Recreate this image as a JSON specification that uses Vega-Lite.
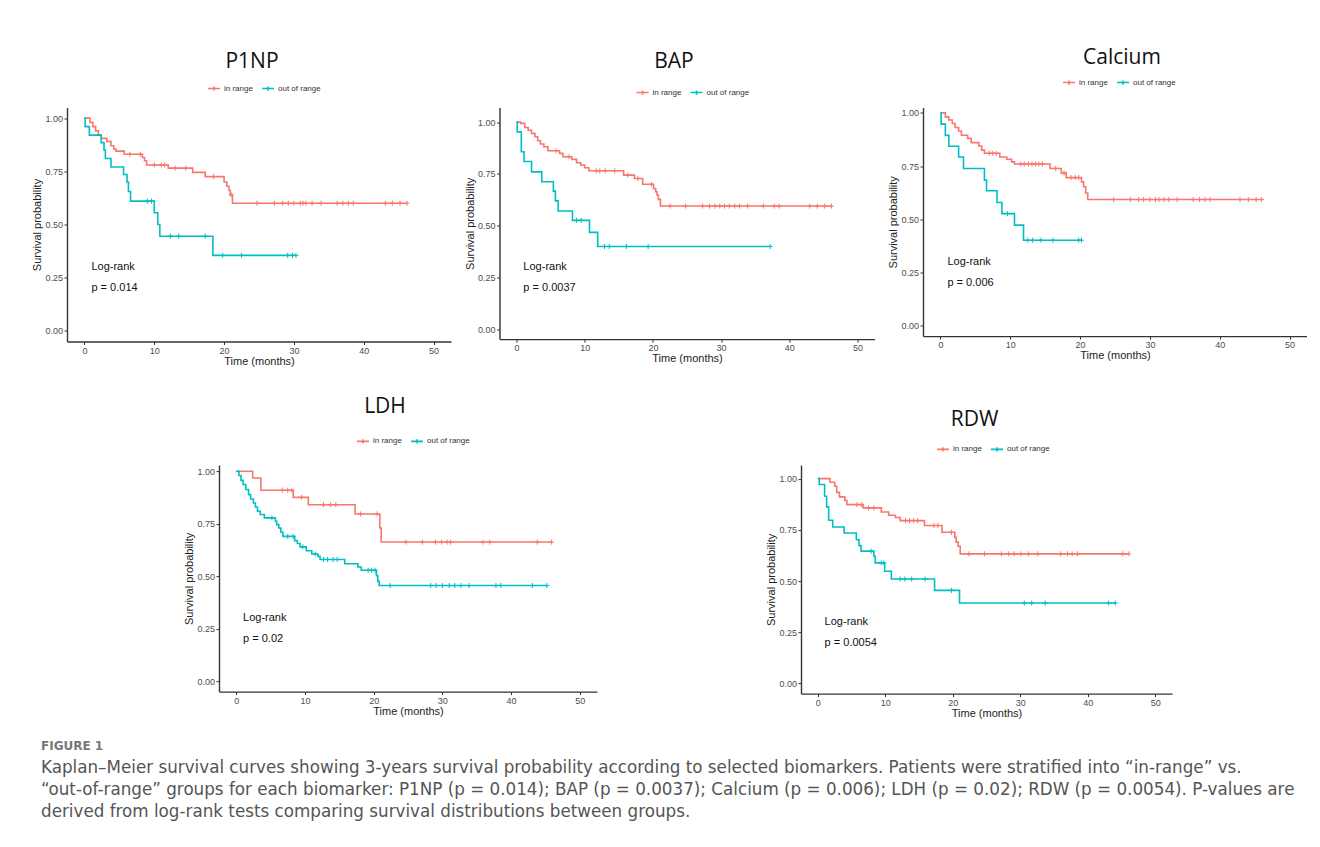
{
  "$schema": "https://vega.github.io/schema/vega-lite/v6.json",
  "padding": {"left": 31, "top": 46.5, "right": 0, "bottom": 5},
  "background": "white",
  "config": {
    "view": {"stroke": null},
    "font": "Liberation Sans",
    "axis": {"grid": false, "domainColor": "#333333", "domainWidth": 1.4, "tickColor": "#333333", "tickWidth": 1, "tickSize": 3, "labelFontSize": 9, "labelColor": "#4d4d4d", "labelPadding": 1.5, "titleFontSize": 11, "titleFontWeight": "normal", "titleColor": "#222222", "titlePadding": 0},
    "axisY": {"titlePadding": 2},
    "legend": {"direction": "horizontal", "labelFontSize": 8, "labelColor": "#333333", "symbolType": "M-1,0L1,0M0,-0.35L0,0.35", "symbolSize": 144, "symbolStrokeWidth": 1.6, "columnPadding": 5, "labelOffset": 3, "padding": 0},
    "title": {"font": "Open Sans", "fontSize": 21, "fontWeight": "normal", "color": "#111111", "anchor": "middle", "frame": "group"}
  },
  "datasets": {
    "P1NP": [
      {"g":"in range","t":0,"s":1,"c":0},{"g":"in range","t":0.8,"s":0.98,"c":0},{"g":"in range","t":1.2,"s":0.96,"c":0},{"g":"in range","t":1.6,"s":0.94,"c":0},{"g":"in range","t":2.0,"s":0.92,"c":0},{"g":"in range","t":2.4,"s":0.905,"c":0},{"g":"in range","t":3.2,"s":0.89,"c":0},{"g":"in range","t":3.8,"s":0.87,"c":0},{"g":"in range","t":4.2,"s":0.855,"c":0},{"g":"in range","t":4.5,"s":0.845,"c":0},{"g":"in range","t":5.7,"s":0.83,"c":0},{"g":"in range","t":6.5,"s":0.83,"c":1},{"g":"in range","t":8.0,"s":0.83,"c":1},{"g":"in range","t":8.3,"s":0.815,"c":0},{"g":"in range","t":8.6,"s":0.8,"c":0},{"g":"in range","t":8.9,"s":0.78,"c":0},{"g":"in range","t":10.0,"s":0.78,"c":1},{"g":"in range","t":11.0,"s":0.78,"c":1},{"g":"in range","t":11.5,"s":0.78,"c":1},{"g":"in range","t":12.0,"s":0.765,"c":0},{"g":"in range","t":13.0,"s":0.765,"c":1},{"g":"in range","t":14.5,"s":0.765,"c":1},{"g":"in range","t":15.5,"s":0.745,"c":0},{"g":"in range","t":17.3,"s":0.725,"c":0},{"g":"in range","t":18.5,"s":0.725,"c":1},{"g":"in range","t":20.0,"s":0.7,"c":0},{"g":"in range","t":20.4,"s":0.68,"c":0},{"g":"in range","t":20.7,"s":0.66,"c":0},{"g":"in range","t":20.9,"s":0.64,"c":0},{"g":"in range","t":21.0,"s":0.64,"c":1},{"g":"in range","t":21.2,"s":0.6,"c":0},{"g":"in range","t":24.7,"s":0.6,"c":1},{"g":"in range","t":27.2,"s":0.6,"c":1},{"g":"in range","t":28.4,"s":0.6,"c":1},{"g":"in range","t":29.2,"s":0.6,"c":1},{"g":"in range","t":30.0,"s":0.6,"c":1},{"g":"in range","t":30.9,"s":0.6,"c":1},{"g":"in range","t":31.3,"s":0.6,"c":1},{"g":"in range","t":31.7,"s":0.6,"c":1},{"g":"in range","t":32.6,"s":0.6,"c":1},{"g":"in range","t":33.9,"s":0.6,"c":1},{"g":"in range","t":36.2,"s":0.6,"c":1},{"g":"in range","t":37.0,"s":0.6,"c":1},{"g":"in range","t":37.8,"s":0.6,"c":1},{"g":"in range","t":38.5,"s":0.6,"c":1},{"g":"in range","t":43.1,"s":0.6,"c":1},{"g":"in range","t":44.1,"s":0.6,"c":1},{"g":"in range","t":45.2,"s":0.6,"c":1},{"g":"in range","t":46.2,"s":0.6,"c":1},
      {"g":"out of range","t":0,"s":1,"c":0},{"g":"out of range","t":0.1,"s":0.96,"c":0},{"g":"out of range","t":0.7,"s":0.92,"c":0},{"g":"out of range","t":2.4,"s":0.885,"c":0},{"g":"out of range","t":2.8,"s":0.85,"c":0},{"g":"out of range","t":3.0,"s":0.81,"c":0},{"g":"out of range","t":3.8,"s":0.77,"c":0},{"g":"out of range","t":5.6,"s":0.735,"c":0},{"g":"out of range","t":6.1,"s":0.7,"c":0},{"g":"out of range","t":6.3,"s":0.655,"c":0},{"g":"out of range","t":6.6,"s":0.61,"c":0},{"g":"out of range","t":9.0,"s":0.61,"c":1},{"g":"out of range","t":9.6,"s":0.61,"c":1},{"g":"out of range","t":10.0,"s":0.555,"c":0},{"g":"out of range","t":10.5,"s":0.5,"c":0},{"g":"out of range","t":10.8,"s":0.445,"c":0},{"g":"out of range","t":12.3,"s":0.445,"c":1},{"g":"out of range","t":13.5,"s":0.445,"c":1},{"g":"out of range","t":17.3,"s":0.445,"c":1},{"g":"out of range","t":18.4,"s":0.355,"c":0},{"g":"out of range","t":19.8,"s":0.355,"c":1},{"g":"out of range","t":22.5,"s":0.355,"c":1},{"g":"out of range","t":29.1,"s":0.355,"c":1},{"g":"out of range","t":29.8,"s":0.355,"c":1},{"g":"out of range","t":30.3,"s":0.355,"c":1}
    ],
    "BAP": [
      {"g":"in range","t":0,"s":1,"c":0},{"g":"in range","t":0.6,"s":0.994,"c":0},{"g":"in range","t":1.2,"s":0.974,"c":0},{"g":"in range","t":1.7,"s":0.961,"c":0},{"g":"in range","t":2.2,"s":0.945,"c":0},{"g":"in range","t":2.7,"s":0.929,"c":0},{"g":"in range","t":3.1,"s":0.91,"c":0},{"g":"in range","t":3.5,"s":0.894,"c":0},{"g":"in range","t":4.0,"s":0.881,"c":0},{"g":"in range","t":4.6,"s":0.862,"c":0},{"g":"in range","t":5.8,"s":0.862,"c":1},{"g":"in range","t":6.3,"s":0.849,"c":0},{"g":"in range","t":6.8,"s":0.833,"c":0},{"g":"in range","t":7.7,"s":0.833,"c":1},{"g":"in range","t":8.1,"s":0.82,"c":0},{"g":"in range","t":8.8,"s":0.804,"c":0},{"g":"in range","t":9.4,"s":0.793,"c":0},{"g":"in range","t":10.0,"s":0.78,"c":0},{"g":"in range","t":10.6,"s":0.765,"c":0},{"g":"in range","t":11.7,"s":0.765,"c":1},{"g":"in range","t":12.2,"s":0.765,"c":1},{"g":"in range","t":13.0,"s":0.765,"c":1},{"g":"in range","t":14.4,"s":0.765,"c":1},{"g":"in range","t":15.7,"s":0.744,"c":0},{"g":"in range","t":16.3,"s":0.744,"c":1},{"g":"in range","t":17.3,"s":0.728,"c":0},{"g":"in range","t":17.8,"s":0.728,"c":1},{"g":"in range","t":18.5,"s":0.7,"c":0},{"g":"in range","t":19.8,"s":0.7,"c":1},{"g":"in range","t":20.1,"s":0.68,"c":0},{"g":"in range","t":20.4,"s":0.664,"c":0},{"g":"in range","t":20.6,"s":0.648,"c":0},{"g":"in range","t":20.8,"s":0.627,"c":0},{"g":"in range","t":21.1,"s":0.595,"c":0},{"g":"in range","t":22.5,"s":0.595,"c":1},{"g":"in range","t":24.8,"s":0.595,"c":1},{"g":"in range","t":27.3,"s":0.595,"c":1},{"g":"in range","t":28.3,"s":0.595,"c":1},{"g":"in range","t":29.1,"s":0.595,"c":1},{"g":"in range","t":29.8,"s":0.595,"c":1},{"g":"in range","t":30.5,"s":0.595,"c":1},{"g":"in range","t":31.2,"s":0.595,"c":1},{"g":"in range","t":32.0,"s":0.595,"c":1},{"g":"in range","t":32.7,"s":0.595,"c":1},{"g":"in range","t":33.9,"s":0.595,"c":1},{"g":"in range","t":36.2,"s":0.595,"c":1},{"g":"in range","t":37.8,"s":0.595,"c":1},{"g":"in range","t":38.5,"s":0.595,"c":1},{"g":"in range","t":43.0,"s":0.595,"c":1},{"g":"in range","t":44.1,"s":0.595,"c":1},{"g":"in range","t":45.2,"s":0.595,"c":1},{"g":"in range","t":46.2,"s":0.595,"c":1},
      {"g":"out of range","t":0,"s":1,"c":0},{"g":"out of range","t":0.1,"s":0.953,"c":0},{"g":"out of range","t":0.7,"s":0.857,"c":0},{"g":"out of range","t":1.1,"s":0.81,"c":0},{"g":"out of range","t":2.2,"s":0.76,"c":0},{"g":"out of range","t":3.7,"s":0.712,"c":0},{"g":"out of range","t":5.4,"s":0.667,"c":0},{"g":"out of range","t":5.7,"s":0.62,"c":0},{"g":"out of range","t":6.1,"s":0.571,"c":0},{"g":"out of range","t":8.2,"s":0.526,"c":0},{"g":"out of range","t":8.8,"s":0.526,"c":1},{"g":"out of range","t":9.5,"s":0.526,"c":1},{"g":"out of range","t":10.7,"s":0.468,"c":0},{"g":"out of range","t":11.9,"s":0.4,"c":0},{"g":"out of range","t":12.9,"s":0.4,"c":1},{"g":"out of range","t":13.6,"s":0.4,"c":1},{"g":"out of range","t":16.1,"s":0.4,"c":1},{"g":"out of range","t":19.3,"s":0.4,"c":1},{"g":"out of range","t":37.2,"s":0.4,"c":1}
    ],
    "Calcium": [
      {"g":"in range","t":0,"s":1,"c":0},{"g":"in range","t":0.7,"s":0.981,"c":0},{"g":"in range","t":1.2,"s":0.966,"c":0},{"g":"in range","t":1.7,"s":0.95,"c":0},{"g":"in range","t":2.1,"s":0.931,"c":0},{"g":"in range","t":2.6,"s":0.915,"c":0},{"g":"in range","t":3.0,"s":0.895,"c":0},{"g":"in range","t":3.9,"s":0.88,"c":0},{"g":"in range","t":4.4,"s":0.86,"c":0},{"g":"in range","t":5.5,"s":0.844,"c":0},{"g":"in range","t":5.9,"s":0.825,"c":0},{"g":"in range","t":6.3,"s":0.81,"c":0},{"g":"in range","t":7.0,"s":0.81,"c":1},{"g":"in range","t":7.5,"s":0.81,"c":1},{"g":"in range","t":8.0,"s":0.81,"c":1},{"g":"in range","t":8.5,"s":0.793,"c":0},{"g":"in range","t":9.5,"s":0.782,"c":0},{"g":"in range","t":10.2,"s":0.77,"c":0},{"g":"in range","t":10.6,"s":0.76,"c":0},{"g":"in range","t":11.5,"s":0.76,"c":1},{"g":"in range","t":12.0,"s":0.76,"c":1},{"g":"in range","t":12.6,"s":0.76,"c":1},{"g":"in range","t":13.1,"s":0.76,"c":1},{"g":"in range","t":13.6,"s":0.76,"c":1},{"g":"in range","t":14.1,"s":0.76,"c":1},{"g":"in range","t":14.6,"s":0.76,"c":1},{"g":"in range","t":15.7,"s":0.739,"c":0},{"g":"in range","t":16.5,"s":0.739,"c":1},{"g":"in range","t":17.3,"s":0.718,"c":0},{"g":"in range","t":17.7,"s":0.718,"c":1},{"g":"in range","t":18.0,"s":0.696,"c":0},{"g":"in range","t":18.7,"s":0.696,"c":1},{"g":"in range","t":19.3,"s":0.696,"c":1},{"g":"in range","t":19.8,"s":0.696,"c":1},{"g":"in range","t":20.2,"s":0.676,"c":0},{"g":"in range","t":20.5,"s":0.653,"c":0},{"g":"in range","t":20.8,"s":0.624,"c":0},{"g":"in range","t":21.1,"s":0.593,"c":0},{"g":"in range","t":24.8,"s":0.593,"c":1},{"g":"in range","t":27.2,"s":0.593,"c":1},{"g":"in range","t":28.4,"s":0.593,"c":1},{"g":"in range","t":29.1,"s":0.593,"c":1},{"g":"in range","t":30.0,"s":0.593,"c":1},{"g":"in range","t":30.8,"s":0.593,"c":1},{"g":"in range","t":31.3,"s":0.593,"c":1},{"g":"in range","t":32.0,"s":0.593,"c":1},{"g":"in range","t":32.7,"s":0.593,"c":1},{"g":"in range","t":33.9,"s":0.593,"c":1},{"g":"in range","t":36.2,"s":0.593,"c":1},{"g":"in range","t":37.1,"s":0.593,"c":1},{"g":"in range","t":37.9,"s":0.593,"c":1},{"g":"in range","t":38.6,"s":0.593,"c":1},{"g":"in range","t":42.9,"s":0.593,"c":1},{"g":"in range","t":44.1,"s":0.593,"c":1},{"g":"in range","t":45.2,"s":0.593,"c":1},{"g":"in range","t":46.0,"s":0.593,"c":1},
      {"g":"out of range","t":0,"s":1,"c":0},{"g":"out of range","t":0.1,"s":0.947,"c":0},{"g":"out of range","t":0.7,"s":0.894,"c":0},{"g":"out of range","t":1.2,"s":0.843,"c":0},{"g":"out of range","t":2.6,"s":0.793,"c":0},{"g":"out of range","t":3.3,"s":0.739,"c":0},{"g":"out of range","t":6.3,"s":0.684,"c":0},{"g":"out of range","t":6.6,"s":0.634,"c":0},{"g":"out of range","t":8.1,"s":0.579,"c":0},{"g":"out of range","t":8.8,"s":0.527,"c":0},{"g":"out of range","t":9.6,"s":0.527,"c":1},{"g":"out of range","t":10.6,"s":0.473,"c":0},{"g":"out of range","t":11.9,"s":0.402,"c":0},{"g":"out of range","t":12.5,"s":0.402,"c":1},{"g":"out of range","t":13.2,"s":0.402,"c":1},{"g":"out of range","t":14.4,"s":0.402,"c":1},{"g":"out of range","t":16.1,"s":0.402,"c":1},{"g":"out of range","t":19.8,"s":0.402,"c":1},{"g":"out of range","t":20.2,"s":0.402,"c":1}
    ],
    "LDH": [
      {"g":"in range","t":0,"s":1,"c":0},{"g":"in range","t":2.4,"s":0.968,"c":0},{"g":"in range","t":3.6,"s":0.91,"c":0},{"g":"in range","t":6.7,"s":0.91,"c":1},{"g":"in range","t":7.5,"s":0.91,"c":1},{"g":"in range","t":8.1,"s":0.91,"c":1},{"g":"in range","t":8.3,"s":0.876,"c":0},{"g":"in range","t":9.5,"s":0.876,"c":1},{"g":"in range","t":10.5,"s":0.841,"c":0},{"g":"in range","t":12.7,"s":0.841,"c":1},{"g":"in range","t":13.7,"s":0.841,"c":1},{"g":"in range","t":14.5,"s":0.841,"c":1},{"g":"in range","t":17.3,"s":0.797,"c":0},{"g":"in range","t":18.1,"s":0.797,"c":1},{"g":"in range","t":20.5,"s":0.797,"c":1},{"g":"in range","t":20.9,"s":0.73,"c":0},{"g":"in range","t":21.1,"s":0.663,"c":0},{"g":"in range","t":24.7,"s":0.663,"c":1},{"g":"in range","t":27.1,"s":0.663,"c":1},{"g":"in range","t":29.0,"s":0.663,"c":1},{"g":"in range","t":29.9,"s":0.663,"c":1},{"g":"in range","t":30.7,"s":0.663,"c":1},{"g":"in range","t":31.2,"s":0.663,"c":1},{"g":"in range","t":35.9,"s":0.663,"c":1},{"g":"in range","t":36.9,"s":0.663,"c":1},{"g":"in range","t":43.8,"s":0.663,"c":1},{"g":"in range","t":45.9,"s":0.663,"c":1},
      {"g":"out of range","t":0,"s":1,"c":0},{"g":"out of range","t":0.4,"s":0.98,"c":0},{"g":"out of range","t":0.7,"s":0.957,"c":0},{"g":"out of range","t":1.0,"s":0.937,"c":0},{"g":"out of range","t":1.4,"s":0.913,"c":0},{"g":"out of range","t":1.8,"s":0.889,"c":0},{"g":"out of range","t":2.1,"s":0.868,"c":0},{"g":"out of range","t":2.5,"s":0.849,"c":0},{"g":"out of range","t":2.8,"s":0.83,"c":0},{"g":"out of range","t":3.1,"s":0.81,"c":0},{"g":"out of range","t":3.5,"s":0.794,"c":0},{"g":"out of range","t":4.1,"s":0.778,"c":0},{"g":"out of range","t":5.2,"s":0.778,"c":1},{"g":"out of range","t":5.7,"s":0.762,"c":0},{"g":"out of range","t":5.9,"s":0.746,"c":0},{"g":"out of range","t":6.2,"s":0.73,"c":0},{"g":"out of range","t":6.5,"s":0.71,"c":0},{"g":"out of range","t":6.8,"s":0.69,"c":0},{"g":"out of range","t":7.5,"s":0.69,"c":1},{"g":"out of range","t":8.3,"s":0.69,"c":1},{"g":"out of range","t":8.5,"s":0.67,"c":0},{"g":"out of range","t":8.9,"s":0.656,"c":0},{"g":"out of range","t":9.3,"s":0.64,"c":0},{"g":"out of range","t":9.7,"s":0.64,"c":1},{"g":"out of range","t":10.2,"s":0.622,"c":0},{"g":"out of range","t":11.0,"s":0.606,"c":0},{"g":"out of range","t":11.5,"s":0.606,"c":1},{"g":"out of range","t":11.9,"s":0.595,"c":0},{"g":"out of range","t":12.2,"s":0.58,"c":0},{"g":"out of range","t":12.7,"s":0.58,"c":1},{"g":"out of range","t":13.3,"s":0.58,"c":1},{"g":"out of range","t":14.1,"s":0.58,"c":1},{"g":"out of range","t":14.7,"s":0.58,"c":1},{"g":"out of range","t":15.8,"s":0.56,"c":0},{"g":"out of range","t":17.7,"s":0.544,"c":0},{"g":"out of range","t":18.2,"s":0.529,"c":0},{"g":"out of range","t":19.2,"s":0.529,"c":1},{"g":"out of range","t":19.7,"s":0.529,"c":1},{"g":"out of range","t":20.2,"s":0.529,"c":1},{"g":"out of range","t":20.4,"s":0.503,"c":0},{"g":"out of range","t":20.6,"s":0.476,"c":0},{"g":"out of range","t":20.8,"s":0.456,"c":0},{"g":"out of range","t":22.4,"s":0.456,"c":1},{"g":"out of range","t":28.3,"s":0.456,"c":1},{"g":"out of range","t":29.1,"s":0.456,"c":1},{"g":"out of range","t":30.0,"s":0.456,"c":1},{"g":"out of range","t":31.0,"s":0.456,"c":1},{"g":"out of range","t":31.8,"s":0.456,"c":1},{"g":"out of range","t":32.7,"s":0.456,"c":1},{"g":"out of range","t":33.9,"s":0.456,"c":1},{"g":"out of range","t":37.8,"s":0.456,"c":1},{"g":"out of range","t":38.5,"s":0.456,"c":1},{"g":"out of range","t":43.1,"s":0.456,"c":1},{"g":"out of range","t":45.2,"s":0.456,"c":1}
    ],
    "RDW": [
      {"g":"in range","t":0,"s":1,"c":0},{"g":"in range","t":1.8,"s":0.982,"c":0},{"g":"in range","t":2.5,"s":0.963,"c":0},{"g":"in range","t":2.8,"s":0.933,"c":0},{"g":"in range","t":3.2,"s":0.911,"c":0},{"g":"in range","t":4.0,"s":0.893,"c":0},{"g":"in range","t":4.3,"s":0.873,"c":0},{"g":"in range","t":5.8,"s":0.873,"c":1},{"g":"in range","t":6.5,"s":0.873,"c":1},{"g":"in range","t":6.7,"s":0.857,"c":0},{"g":"in range","t":7.5,"s":0.857,"c":1},{"g":"in range","t":8.3,"s":0.857,"c":1},{"g":"in range","t":9.4,"s":0.837,"c":0},{"g":"in range","t":10.5,"s":0.821,"c":0},{"g":"in range","t":11.5,"s":0.81,"c":0},{"g":"in range","t":12.2,"s":0.795,"c":0},{"g":"in range","t":13.0,"s":0.795,"c":1},{"g":"in range","t":13.6,"s":0.795,"c":1},{"g":"in range","t":14.2,"s":0.795,"c":1},{"g":"in range","t":14.8,"s":0.795,"c":1},{"g":"in range","t":15.8,"s":0.771,"c":0},{"g":"in range","t":17.2,"s":0.771,"c":1},{"g":"in range","t":17.8,"s":0.771,"c":1},{"g":"in range","t":18.4,"s":0.738,"c":0},{"g":"in range","t":19.8,"s":0.738,"c":1},{"g":"in range","t":20.3,"s":0.714,"c":0},{"g":"in range","t":20.5,"s":0.69,"c":0},{"g":"in range","t":20.8,"s":0.67,"c":0},{"g":"in range","t":21.1,"s":0.633,"c":0},{"g":"in range","t":22.4,"s":0.633,"c":1},{"g":"in range","t":24.7,"s":0.633,"c":1},{"g":"in range","t":27.2,"s":0.633,"c":1},{"g":"in range","t":28.3,"s":0.633,"c":1},{"g":"in range","t":29.1,"s":0.633,"c":1},{"g":"in range","t":30.1,"s":0.633,"c":1},{"g":"in range","t":31.2,"s":0.633,"c":1},{"g":"in range","t":32.6,"s":0.633,"c":1},{"g":"in range","t":36.0,"s":0.633,"c":1},{"g":"in range","t":37.0,"s":0.633,"c":1},{"g":"in range","t":37.7,"s":0.633,"c":1},{"g":"in range","t":38.5,"s":0.633,"c":1},{"g":"in range","t":45.2,"s":0.633,"c":1},{"g":"in range","t":46.1,"s":0.633,"c":1},
      {"g":"out of range","t":0,"s":1,"c":0},{"g":"out of range","t":0.2,"s":0.971,"c":0},{"g":"out of range","t":1.0,"s":0.914,"c":0},{"g":"out of range","t":1.3,"s":0.862,"c":0},{"g":"out of range","t":1.6,"s":0.797,"c":0},{"g":"out of range","t":2.2,"s":0.764,"c":0},{"g":"out of range","t":3.9,"s":0.735,"c":0},{"g":"out of range","t":5.7,"s":0.702,"c":0},{"g":"out of range","t":6.1,"s":0.673,"c":0},{"g":"out of range","t":6.4,"s":0.646,"c":0},{"g":"out of range","t":7.9,"s":0.646,"c":1},{"g":"out of range","t":8.3,"s":0.621,"c":0},{"g":"out of range","t":8.5,"s":0.589,"c":0},{"g":"out of range","t":9.4,"s":0.589,"c":1},{"g":"out of range","t":9.8,"s":0.589,"c":1},{"g":"out of range","t":9.9,"s":0.548,"c":0},{"g":"out of range","t":10.9,"s":0.51,"c":0},{"g":"out of range","t":12.2,"s":0.51,"c":1},{"g":"out of range","t":12.9,"s":0.51,"c":1},{"g":"out of range","t":13.9,"s":0.51,"c":1},{"g":"out of range","t":15.9,"s":0.51,"c":1},{"g":"out of range","t":17.3,"s":0.455,"c":0},{"g":"out of range","t":19.8,"s":0.455,"c":1},{"g":"out of range","t":21.0,"s":0.393,"c":0},{"g":"out of range","t":30.6,"s":0.393,"c":1},{"g":"out of range","t":31.7,"s":0.393,"c":1},{"g":"out of range","t":33.7,"s":0.393,"c":1},{"g":"out of range","t":43.1,"s":0.393,"c":1},{"g":"out of range","t":44.1,"s":0.393,"c":1}
    ],
    "caption": [
      {"line": 0, "kind": "head", "text": "FIGURE 1"},
      {"line": 1, "kind": "body", "text": "Kaplan–Meier survival curves showing 3-years survival probability according to selected biomarkers. Patients were stratified into “in-range” vs."},
      {"line": 2, "kind": "body", "text": "“out-of-range” groups for each biomarker: P1NP (p = 0.014); BAP (p = 0.0037); Calcium (p = 0.006); LDH (p = 0.02); RDW (p = 0.0054). P-values are"},
      {"line": 3, "kind": "body", "text": "derived from log-rank tests comparing survival distributions between groups."}
    ]
  },
  "resolve": {"scale": {"color": "independent"}},
  "spacing": 21.5,
  "vconcat": [
    {
      "spacing": 28.6,
      "resolve": {"scale": {"color": "independent"}},
      "vconcat": [
        {
          "spacing": 12.5,
          "resolve": {"scale": {"color": "independent"}},
          "hconcat": [
            {
              "width": 384, "height": 234,
              "title": {"text": "P1NP", "dx": -7, "offset": 9.7},
              "data": {"name": "P1NP"},
              "layer": [
                {"mark": {"type": "line", "interpolate": "step-after", "strokeWidth": 1.6},
                 "encoding": {
                   "x": {"field": "t", "type": "quantitative", "scale": {"domain": [-2.5, 52.5], "nice": false, "zero": false}, "axis": {"values": [0, 10, 20, 30, 40, 50], "title": "Time (months)"}},
                   "y": {"field": "s", "type": "quantitative", "scale": {"domain": [-0.05, 1.05], "nice": false, "zero": false}, "axis": {"values": [0, 0.25, 0.5, 0.75, 1], "format": ".2f", "title": "Survival probability"}},
                   "color": {"field": "g", "type": "nominal", "scale": {"domain": ["in range", "out of range"], "range": ["#F8766D", "#00BFC4"]}, "legend": {"title": null, "orient": "none", "legendX": 140, "legendY": -26.3}}}},
                {"transform": [{"filter": "datum.c == 1"}],
                 "mark": {"type": "point", "shape": "M-1,0L1,0M0,-1L0,1", "filled": false, "size": 26, "strokeWidth": 1, "opacity": 1},
                 "encoding": {"x": {"field": "t", "type": "quantitative"}, "y": {"field": "s", "type": "quantitative"}, "color": {"field": "g", "type": "nominal", "legend": null}}},
                {"data": {"values": [{"label": "Log-rank", "pos": 0.3}, {"label": "p = 0.014", "pos": 0.2}]},
                 "mark": {"type": "text", "align": "left", "baseline": "middle", "fontSize": 11, "color": "#111111"},
                 "encoding": {"x": {"datum": 1}, "y": {"field": "pos", "type": "quantitative"}, "text": {"field": "label"}}}
              ]
            },
            {
              "width": 375, "height": 231.6,
              "title": {"text": "BAP", "dx": -13, "offset": 13.7},
              "data": {"name": "BAP"},
              "layer": [
                {"mark": {"type": "line", "interpolate": "step-after", "strokeWidth": 1.6},
                 "encoding": {
                   "x": {"field": "t", "type": "quantitative", "scale": {"domain": [-2.5, 52.5], "nice": false, "zero": false}, "axis": {"values": [0, 10, 20, 30, 40, 50], "title": "Time (months)"}},
                   "y": {"field": "s", "type": "quantitative", "scale": {"domain": [-0.0468, 1.0704], "nice": false, "zero": false}, "axis": {"values": [0, 0.25, 0.5, 0.75, 1], "format": ".2f", "title": "Survival probability"}},
                   "color": {"field": "g", "type": "nominal", "scale": {"domain": ["in range", "out of range"], "range": ["#F8766D", "#00BFC4"]}, "legend": {"title": null, "orient": "none", "legendX": 136, "legendY": -22.3}}}},
                {"transform": [{"filter": "datum.c == 1"}],
                 "mark": {"type": "point", "shape": "M-1,0L1,0M0,-1L0,1", "filled": false, "size": 26, "strokeWidth": 1, "opacity": 1},
                 "encoding": {"x": {"field": "t", "type": "quantitative"}, "y": {"field": "s", "type": "quantitative"}, "color": {"field": "g", "type": "nominal", "legend": null}}},
                {"data": {"values": [{"label": "Log-rank", "pos": 0.3}, {"label": "p = 0.0037", "pos": 0.2}]},
                 "mark": {"type": "text", "align": "left", "baseline": "middle", "fontSize": 11, "color": "#111111"},
                 "encoding": {"x": {"datum": 1}, "y": {"field": "pos", "type": "quantitative"}, "text": {"field": "label"}}}
              ]
            },
            {
              "width": 384, "height": 228.6,
              "title": {"text": "Calcium", "dx": 7, "offset": 7.2},
              "data": {"name": "Calcium"},
              "layer": [
                {"mark": {"type": "line", "interpolate": "step-after", "strokeWidth": 1.6},
                 "encoding": {
                   "x": {"field": "t", "type": "quantitative", "scale": {"domain": [-2.5, 52.5], "nice": false, "zero": false}, "axis": {"values": [0, 10, 20, 30, 40, 50], "title": "Time (months)"}},
                   "y": {"field": "s", "type": "quantitative", "scale": {"domain": [-0.048, 1.025], "nice": false, "zero": false}, "axis": {"values": [0, 0.25, 0.5, 0.75, 1], "format": ".2f", "title": "Survival probability"}},
                   "color": {"field": "g", "type": "nominal", "scale": {"domain": ["in range", "out of range"], "range": ["#F8766D", "#00BFC4"]}, "legend": {"title": null, "orient": "none", "legendX": 139, "legendY": -32.3}}}},
                {"transform": [{"filter": "datum.c == 1"}],
                 "mark": {"type": "point", "shape": "M-1,0L1,0M0,-1L0,1", "filled": false, "size": 26, "strokeWidth": 1, "opacity": 1},
                 "encoding": {"x": {"field": "t", "type": "quantitative"}, "y": {"field": "s", "type": "quantitative"}, "color": {"field": "g", "type": "nominal", "legend": null}}},
                {"data": {"values": [{"label": "Log-rank", "pos": 0.3}, {"label": "p = 0.006", "pos": 0.2}]},
                 "mark": {"type": "text", "align": "left", "baseline": "middle", "fontSize": 11, "color": "#111111"},
                 "encoding": {"x": {"datum": 1}, "y": {"field": "pos", "type": "quantitative"}, "text": {"field": "label"}}}
              ]
            }
          ]
        },
        {
          "spacing": 0,
          "resolve": {"scale": {"color": "independent"}},
          "hconcat": [
            {"width": 115.7, "height": 10, "data": {"values": []}, "mark": "point"},
            {
              "width": 378, "height": 226.5,
              "title": {"text": "LDH", "dx": -23, "offset": 17},
              "data": {"name": "LDH"},
              "layer": [
                {"mark": {"type": "line", "interpolate": "step-after", "strokeWidth": 1.6},
                 "encoding": {
                   "x": {"field": "t", "type": "quantitative", "scale": {"domain": [-2.5, 52.5], "nice": false, "zero": false}, "axis": {"values": [0, 10, 20, 30, 40, 50], "title": "Time (months)"}},
                   "y": {"field": "s", "type": "quantitative", "scale": {"domain": [-0.049, 1.0295], "nice": false, "zero": false}, "axis": {"values": [0, 0.25, 0.5, 0.75, 1], "format": ".2f", "title": "Survival probability"}},
                   "color": {"field": "g", "type": "nominal", "scale": {"domain": ["in range", "out of range"], "range": ["#F8766D", "#00BFC4"]}, "legend": {"title": null, "orient": "none", "legendX": 137, "legendY": -31.1}}}},
                {"transform": [{"filter": "datum.c == 1"}],
                 "mark": {"type": "point", "shape": "M-1,0L1,0M0,-1L0,1", "filled": false, "size": 26, "strokeWidth": 1, "opacity": 1},
                 "encoding": {"x": {"field": "t", "type": "quantitative"}, "y": {"field": "s", "type": "quantitative"}, "color": {"field": "g", "type": "nominal", "legend": null}}},
                {"data": {"values": [{"label": "Log-rank", "pos": 0.3}, {"label": "p = 0.02", "pos": 0.2}]},
                 "mark": {"type": "text", "align": "left", "baseline": "middle", "fontSize": 11, "color": "#111111"},
                 "encoding": {"x": {"datum": 1}, "y": {"field": "pos", "type": "quantitative"}, "text": {"field": "label"}}}
              ]
            },
            {"width": 167.6, "height": 10, "data": {"values": []}, "mark": "point"},
            {
              "width": 371, "height": 228.5,
              "title": {"text": "RDW", "dx": -12, "offset": 12},
              "data": {"name": "RDW"},
              "layer": [
                {"mark": {"type": "line", "interpolate": "step-after", "strokeWidth": 1.6},
                 "encoding": {
                   "x": {"field": "t", "type": "quantitative", "scale": {"domain": [-2.5, 52.5], "nice": false, "zero": false}, "axis": {"values": [0, 10, 20, 30, 40, 50], "title": "Time (months)"}},
                   "y": {"field": "s", "type": "quantitative", "scale": {"domain": [-0.0488, 1.0659], "nice": false, "zero": false}, "axis": {"values": [0, 0.25, 0.5, 0.75, 1], "format": ".2f", "title": "Survival probability"}},
                   "color": {"field": "g", "type": "nominal", "scale": {"domain": ["in range", "out of range"], "range": ["#F8766D", "#00BFC4"]}, "legend": {"title": null, "orient": "none", "legendX": 135, "legendY": -23.1}}}},
                {"transform": [{"filter": "datum.c == 1"}],
                 "mark": {"type": "point", "shape": "M-1,0L1,0M0,-1L0,1", "filled": false, "size": 26, "strokeWidth": 1, "opacity": 1},
                 "encoding": {"x": {"field": "t", "type": "quantitative"}, "y": {"field": "s", "type": "quantitative"}, "color": {"field": "g", "type": "nominal", "legend": null}}},
                {"data": {"values": [{"label": "Log-rank", "pos": 0.3}, {"label": "p = 0.0054", "pos": 0.2}]},
                 "mark": {"type": "text", "align": "left", "baseline": "middle", "fontSize": 11, "color": "#111111"},
                 "encoding": {"x": {"datum": 1}, "y": {"field": "pos", "type": "quantitative"}, "text": {"field": "label"}}}
              ]
            }
          ]
        }
      ]
    },
    {
      "width": 1200, "height": 66,
      "data": {"name": "caption"},
      "layer": [
        {"transform": [{"filter": "datum.kind == 'body'"}],
         "mark": {"type": "text", "align": "left", "baseline": "middle", "font": "DejaVu Sans", "fontSize": 16.75, "color": "#555555", "dx": -26},
         "encoding": {"x": {"datum": 0, "scale": {"domain": [0, 1]}, "axis": null}, "y": {"field": "line", "type": "quantitative", "scale": {"domain": [0, 3], "reverse": true}, "axis": null}, "text": {"field": "text"}}},
        {"transform": [{"filter": "datum.kind == 'head'"}],
         "mark": {"type": "text", "align": "left", "baseline": "middle", "font": "DejaVu Sans", "fontSize": 12, "fontWeight": "bold", "color": "#777777", "dx": -26},
         "encoding": {"x": {"datum": 0}, "y": {"field": "line", "type": "quantitative"}, "text": {"field": "text"}}}
      ]
    }
  ]
}
